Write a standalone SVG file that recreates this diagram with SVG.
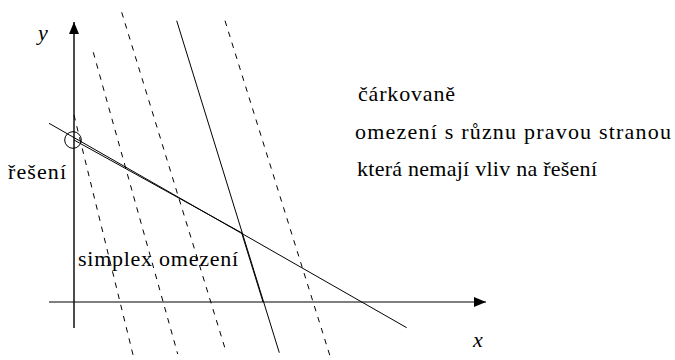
<svg xmlns="http://www.w3.org/2000/svg" width="675" height="360" viewBox="0 0 675 360">
<style>
text{font-family:'Liberation Serif','DejaVu Serif',serif;font-size:22px;fill:#000}
.i{font-style:italic}
.dash{stroke:#000;stroke-width:1;fill:none;stroke-dasharray:5.5 6}
.sol{stroke:#000;stroke-width:1;fill:none}
</style>
<defs>
<marker id="ah" viewBox="0 0 12 10" refX="12" refY="5" markerWidth="12" markerHeight="10" markerUnits="userSpaceOnUse" orient="auto">
<path d="M0,0 L12,5 L0,10 Z" fill="#000"/>
</marker>
</defs>
<rect width="675" height="360" fill="#fff"/>
<g id="axes">
<line x1="49" y1="302" x2="486" y2="302" stroke="#000" stroke-width="1.2" marker-end="url(#ah)"/>
<line x1="74" y1="328" x2="74" y2="22" stroke="#000" stroke-width="1.4" marker-end="url(#ah)"/>
</g>
<g id="connectors">
<line class="dash" x1="74" y1="115" x2="133.3" y2="356"/>
<line class="dash" x1="93.3" y1="52.3" x2="177.7" y2="354"/>
<line class="dash" x1="121.7" y1="12.3" x2="225" y2="348.3"/>
<line class="dash" x1="225" y1="20.7" x2="330" y2="356"/>
<line class="sol" x1="176.7" y1="20.7" x2="279.3" y2="352.7"/>
<line class="sol" x1="49" y1="123.3" x2="406.7" y2="327.7"/>
<line class="sol" x1="74" y1="140" x2="242" y2="233" stroke-width="1.2"/>
<line class="sol" x1="241.7" y1="233" x2="263" y2="302" stroke-width="2"/>
<circle cx="73" cy="140" r="8.3" class="sol"/>
</g>
<g id="labels">
<text class="i" x="38" y="40">y</text>
<text class="i" x="473" y="347">x</text>
<text x="8" y="179" textLength="58" lengthAdjust="spacing">řešení</text>
<text x="78" y="266" textLength="160" lengthAdjust="spacing">simplex omezení</text>
<text x="358" y="101" textLength="97" lengthAdjust="spacing">čárkovaně</text>
<text x="355" y="139" textLength="316" lengthAdjust="spacing">omezení s různu pravou stranou</text>
<text x="357" y="176" textLength="240" lengthAdjust="spacing">která nemají vliv na řešení</text>
</g>
</svg>
